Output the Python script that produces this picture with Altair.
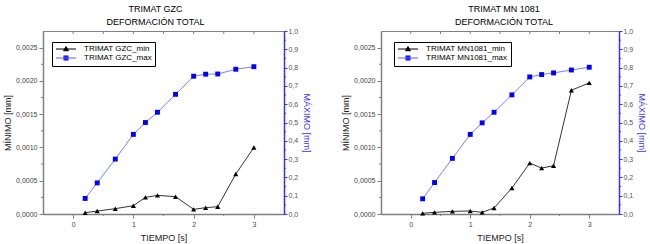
import altair as alt
import pandas as pd

# ---------------- data ----------------
tiempo = [0.2, 0.4, 0.7, 1.0, 1.2, 1.4, 1.7, 2.0, 2.2, 2.4, 2.7, 3.0]

gzc_min = [0.00002, 0.000045, 0.00008, 0.000125, 0.00025, 0.00028,
           0.00026, 0.00007, 0.000095, 0.00011, 0.0006, 0.001]
gzc_max = [0.085, 0.17, 0.30, 0.435, 0.50, 0.556,
           0.654, 0.753, 0.764, 0.765, 0.791, 0.805]

mn_min = [0.00001, 0.000025, 0.00004, 0.000045, 0.000025, 0.00009,
          0.00039, 0.000765, 0.00069, 0.000725, 0.00186, 0.00197]
mn_max = [0.083, 0.172, 0.304, 0.435, 0.498, 0.556,
          0.651, 0.749, 0.762, 0.771, 0.787, 0.802]

x_major = [0, 1, 2, 3]
x_minor = [0.5, 1.5, 2.5]
x_all = [0, 0.5, 1, 1.5, 2, 2.5, 3]
left_major = [0, 0.0005, 0.001, 0.0015, 0.002, 0.0025]
left_minor = [0.00025, 0.00075, 0.00125, 0.00175, 0.00225]
right_major = [0, 0.1, 0.2, 0.3, 0.4, 0.5, 0.6, 0.7, 0.8, 0.9, 1.0]
right_minor = [0.05, 0.15, 0.25, 0.35, 0.45, 0.55, 0.65, 0.75, 0.85, 0.95]

FONT = "Liberation Sans"
GRAY = "#808080"
AXBLUE = "#3333ff"
BLUE_LINE = "#5c5cff"
BLUE_PT = "#0000ff"
H = 183

PATH_TRI = "M-2.86,0L2.86,0M-0.7,0.5L0,-0.7L0.7,0.5Z"
PATH_SQ = "M-2.86,0L2.86,0M-0.63,-0.63L0.63,-0.63L0.63,0.63L-0.63,0.63Z"


def panel(title_lines, name, mins, maxs, width, lx, ly, dx):
    df = pd.DataFrame({"t": tiempo, "mn": mins, "mx": maxs})
    xs = alt.Scale(domain=[-0.5, 3.5], nice=False, zero=False)
    ysl = alt.Scale(domain=[0, 0.00275], nice=False, zero=False)
    ysr = alt.Scale(domain=[0, 1.0], nice=False, zero=False)

    x_axis = alt.Axis(
        values=x_major, format="d", tickSize=4, orient="bottom",
        title="TIEMPO [s]", grid=False, labelPadding=2, titlePadding=6,
    )
    left_axis = alt.Axis(
        values=left_major, orient="left",
        labelExpr="replace(format(datum.value, '.4f'), '.', ',')",
        tickSize=4,
        title="MÍNIMO [mm]", grid=False, labelPadding=2, titlePadding=3,
    )
    right_axis = alt.Axis(
        values=right_major, orient="right",
        labelExpr="replace(format(datum.value, '.1f'), '.', ',')",
        tickSize=3,
        title="MÁXIMO [mm]", grid=False, labelPadding=1, titlePadding=4,
        domainColor=AXBLUE, tickColor=AXBLUE, titleColor=AXBLUE,
        labelColor="#555555",
    )

    X = alt.X("t:Q", scale=xs, axis=x_axis)
    base = alt.Chart(df)
    min_line = base.mark_line(color="black", strokeWidth=0.8).encode(
        x=X, y=alt.Y("mn:Q", scale=ysl, axis=left_axis),
    )
    min_pts = base.mark_point(shape="triangle-up", filled=True, color="black",
                              size=26, opacity=1).encode(
        x=X, y=alt.Y("mn:Q", scale=ysl, axis=None),
    )
    max_line = base.mark_line(color=BLUE_LINE, strokeWidth=0.8).encode(
        x=X, y=alt.Y("mx:Q", scale=ysr, axis=right_axis),
    )
    max_pts = base.mark_point(shape="square", filled=True, color=BLUE_PT,
                              size=24, opacity=1).encode(
        x=X, y=alt.Y("mx:Q", scale=ysr, axis=None),
    )
    XV = alt.X("v:Q", scale=xs, axis=x_axis)
    top_ticks = alt.Chart(pd.DataFrame({"v": x_all})).mark_rule(
        color=GRAY, strokeWidth=1).encode(
        x=XV, y=alt.value(0), y2=alt.value(3),
    )
    bottom_minor = alt.Chart(pd.DataFrame({"v": x_minor})).mark_rule(
        color=GRAY, strokeWidth=1).encode(
        x=XV, y=alt.value(H), y2=alt.value(H + 2),
    )
    left_minor_ticks = alt.Chart(pd.DataFrame({"v": left_minor})).mark_rule(
        color=GRAY, strokeWidth=1).encode(
        y=alt.Y("v:Q", scale=ysl, axis=None),
        x=alt.value(0), x2=alt.value(-2),
    )
    right_minor_ticks = alt.Chart(pd.DataFrame({"v": right_minor})).mark_rule(
        color=AXBLUE, strokeWidth=1).encode(
        y=alt.Y("v:Q", scale=ysr, axis=None),
        x=alt.value(width), x2=alt.value(width + 2),
    )

    labels = [name + "_min", name + "_max"]
    leg = alt.Legend(
        title=None, orient="none", legendX=lx, legendY=ly,
        strokeColor="black", fillColor="white", padding=3,
        labelFont=FONT, labelFontSize=8, labelColor="black",
        symbolSize=49, symbolStrokeWidth=1, symbolOpacity=1,
        symbolOffset=7, labelOffset=14, rowPadding=0, cornerRadius=0,
    )
    legend_layer = alt.Chart(pd.DataFrame({"s": labels})).mark_point(
        opacity=0, filled=False).encode(
        x=alt.value(0), y=alt.value(0),
        stroke=alt.Stroke("s:N", scale=alt.Scale(domain=labels, range=["black", BLUE_LINE]), legend=leg),
        fill=alt.Fill("s:N", scale=alt.Scale(domain=labels, range=["black", BLUE_PT]), legend=leg),
        shape=alt.Shape("s:N", scale=alt.Scale(domain=labels, range=[PATH_TRI, PATH_SQ]), legend=leg),
    )

    return alt.layer(
        min_line, max_line, min_pts, max_pts, top_ticks, bottom_minor,
        left_minor_ticks, right_minor_ticks, legend_layer,
    ).resolve_scale(y="independent").properties(
        width=width, height=H,
        title=alt.TitleParams(text=title_lines, fontSize=9, fontWeight="normal",
                              font=FONT, color="black", lineHeight=13, offset=0,
                              anchor="middle", dx=dx),
    )


left = panel(["TRIMAT GZC", "DEFORMACIÓN TOTAL"], "TRIMAT GZC",
             gzc_min, gzc_max, 241, 9, 11, -8)
right = panel(["TRIMAT MN 1081", "DEFORMACIÓN TOTAL"], "TRIMAT MN1081",
              mn_min, mn_max, 238, 13, 11, 4)

chart = alt.hconcat(left, right, spacing=29).resolve_scale(
    stroke="independent", fill="independent", shape="independent"
).properties(
    padding={"left": 3, "top": 4, "right": 2, "bottom": 0},
    background="white",
).configure_view(
    stroke=GRAY, strokeWidth=1,
).configure_axis(
    domainColor=GRAY, domainWidth=1.5, tickColor=GRAY, tickWidth=1,
    labelColor="#444444", labelFont=FONT, labelFontSize=7,
    titleFont=FONT, titleFontSize=9, titleFontWeight="normal", titleColor="#222222",
)

chart.save("out.html", embed_options={"renderer": "svg", "actions": False})
